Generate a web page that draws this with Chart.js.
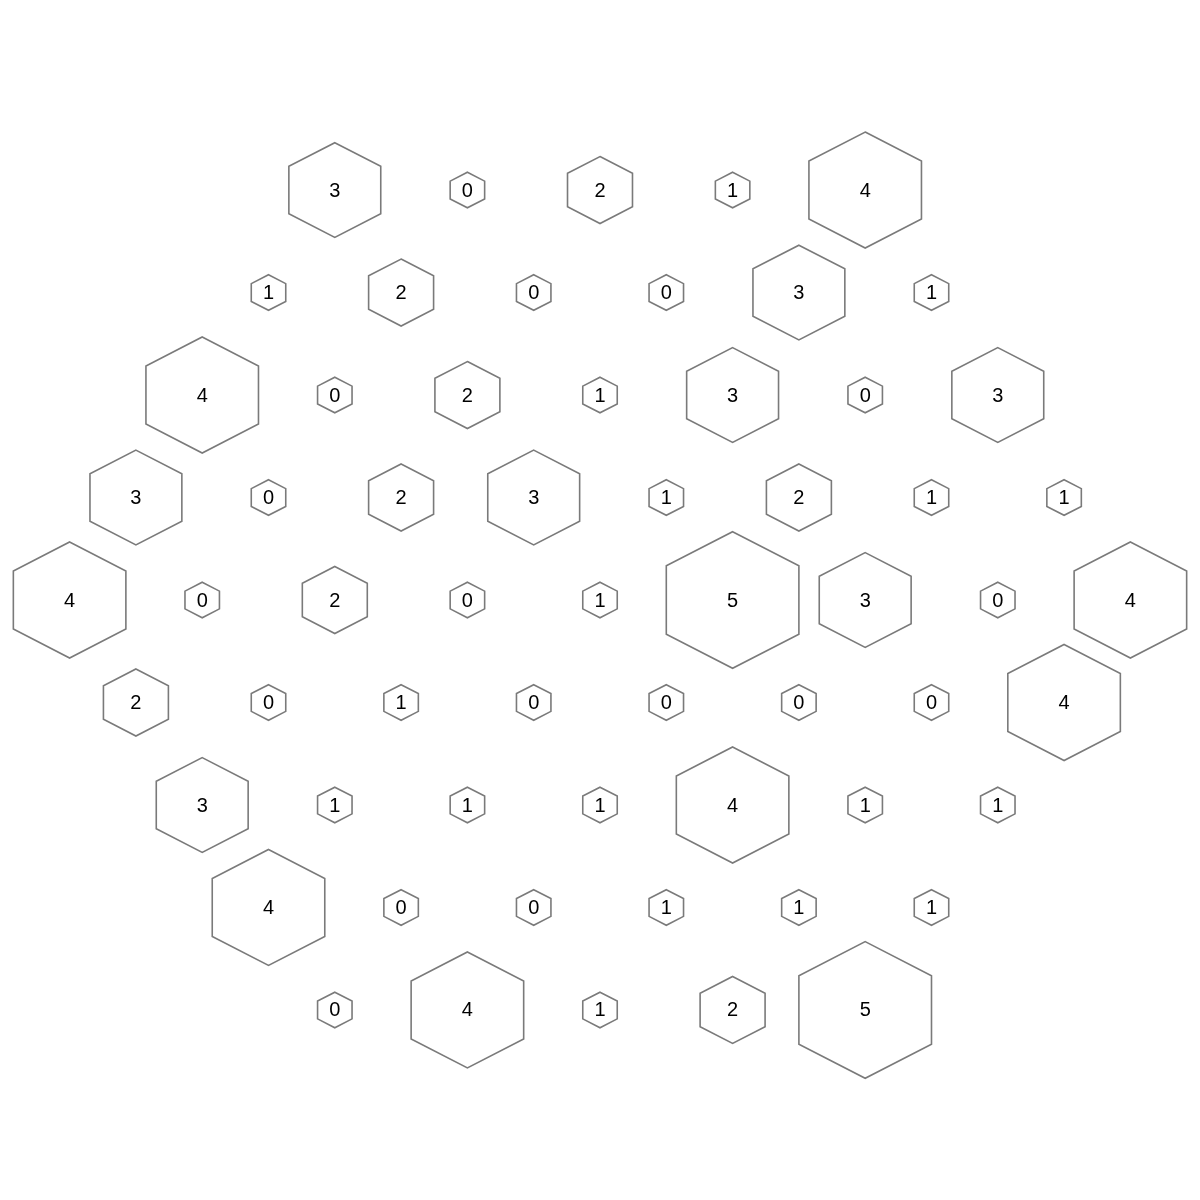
<!DOCTYPE html>
<html>
<head>
<meta charset="utf-8">
<script src="https://cdn.jsdelivr.net/npm/chart.js@4"></script>
<style>
  body { margin: 0; background: #fff; }
  #wrap { width: 1200px; height: 1200px; }
</style>
</head>
<body>
<div id="wrap"><canvas id="hexChart"></canvas></div>
<script>
// counts per row of the hex grid, top row first
const row1 = [3, 0, 2, 1, 4];
const row2 = [1, 2, 0, 0, 3, 1];
const row3 = [4, 0, 2, 1, 3, 0, 3];
const row4 = [3, 0, 2, 3, 1, 2, 1, 1];
const row5 = [4, 0, 2, 0, 1, 5, 3, 0, 4];
const row6 = [2, 0, 1, 0, 0, 0, 0, 4];
const row7 = [3, 1, 1, 1, 4, 1, 1];
const row8 = [4, 0, 0, 1, 1, 1];
const row9 = [0, 4, 1, 2, 5];
const rows = [row1, row2, row3, row4, row5, row6, row7, row8, row9];
const maxCount = 5;

// hex centres: x in hex widths, y in row steps
const points = [];
rows.forEach((vals, i) => {
  const start = -(vals.length - 1) / 2;
  vals.forEach((v, j) => {
    points.push({ x: start + j, y: 4 - i, v: v });
  });
});

// relative hex size: area grows with count, small ones kept visible
function sizeOf(v) {
  const a = Math.max((v - 1) / (maxCount - 1), 0);
  return Math.max(Math.sqrt(a) * 0.98, 0.26);
}

const hexPlugin = {
  id: 'hexes',
  afterDatasetsDraw(chart) {
    const ctx = chart.ctx;
    const xs = chart.scales.x, ys = chart.scales.y;
    const halfW = (xs.getPixelForValue(1) - xs.getPixelForValue(0)) / 2;
    const rowStep = Math.abs(ys.getPixelForValue(1) - ys.getPixelForValue(0));
    const R = rowStep / 1.5;
    const meta = chart.getDatasetMeta(0);
    ctx.save();
    meta.data.forEach((el, k) => {
      const v = points[k].v;
      const s = v === maxCount ? 1 : sizeOf(v);
      const w = halfW * s, r = R * s;
      ctx.beginPath();
      ctx.moveTo(el.x, el.y - r);
      ctx.lineTo(el.x + w, el.y - r / 2);
      ctx.lineTo(el.x + w, el.y + r / 2);
      ctx.lineTo(el.x, el.y + r);
      ctx.lineTo(el.x - w, el.y + r / 2);
      ctx.lineTo(el.x - w, el.y - r / 2);
      ctx.closePath();
      ctx.strokeStyle = '#7a7a7a';
      ctx.lineWidth = 1.6;
      ctx.stroke();

      ctx.fillStyle = '#000';
      ctx.font = '20px "Liberation Sans", Arial, sans-serif';
      ctx.textAlign = 'center';
      ctx.textBaseline = 'middle';
      ctx.fillText(String(v), el.x, el.y + 1);
    });
    ctx.restore();
  }
};

new Chart(document.getElementById('hexChart'), {
  type: 'scatter',
  data: {
    datasets: [{
      data: points,
      pointRadius: 0,
      pointHoverRadius: 0
    }]
  },
  options: {
    responsive: true,
    maintainAspectRatio: false,
    animation: false,
    layout: { padding: 0 },
    plugins: { legend: { display: false }, tooltip: { enabled: false } },
    scales: {
      x: { display: false, min: -4.525, max: 4.525 },
      y: { display: false, min: -5.854, max: 5.854 }
    }
  },
  plugins: [hexPlugin]
});
</script>
</body>
</html>
